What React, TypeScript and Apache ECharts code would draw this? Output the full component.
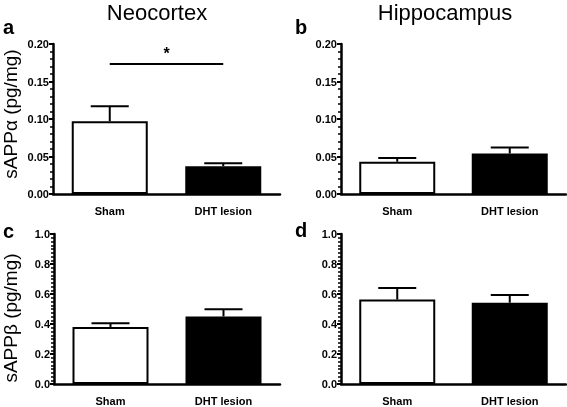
import React, { useEffect, useRef } from "react";
import * as echarts from "echarts";

const categories = ["Sham", "DHT lesion"];
// panel a: Neocortex sAPPα
const neoAlpha = [0.097, 0.037];
const neoAlphaErr = [0.117, 0.041];
// panel b: Hippocampus sAPPα
const hipAlpha = [0.043, 0.054];
const hipAlphaErr = [0.048, 0.062];
// panel c: Neocortex sAPPβ
const neoBeta = [0.38, 0.45];
const neoBetaErr = [0.405, 0.498];
// panel d: Hippocampus sAPPβ
const hipBeta = [0.563, 0.542];
const hipBetaErr = [0.64, 0.593];
const sigLevelA = 0.174;

const barColors = ["#ffffff", "#000000"];

export default function App() {
  const ref = useRef<HTMLDivElement>(null);
  useEffect(() => {
    if (!ref.current) return;
    const chart = echarts.init(ref.current, undefined, { renderer: "svg" });
    const font = "Liberation Sans, Arial, Helvetica, sans-serif";
    const grids = [
      { left: 53, top: 44, width: 227, height: 150 },
      { left: 341, top: 44, width: 225, height: 150 },
      { left: 54, top: 234, width: 226, height: 150 },
      { left: 341, top: 234, width: 225, height: 150 },
    ];
    const yConf = [
      { max: 0.2, interval: 0.05, dec: 2, minor: 5 },
      { max: 0.2, interval: 0.05, dec: 2, minor: 5 },
      { max: 1.0, interval: 0.2, dec: 1, minor: 8 },
      { max: 1.0, interval: 0.2, dec: 1, minor: 8 },
    ];
    const vals = [neoAlpha, hipAlpha, neoBeta, hipBeta];
    const errs = [neoAlphaErr, hipAlphaErr, neoBetaErr, hipBetaErr];

    const xAxes = grids.map((_, i) => ({
      type: "category",
      gridIndex: i,
      data: categories,
      axisLine: { lineStyle: { color: "#000", width: 2.5 } },
      axisTick: { show: false },
      axisLabel: {
        color: "#000",
        fontWeight: "bold",
        fontSize: 11,
        fontFamily: font,
        margin: 11,
      },
    }));
    const yAxes = yConf.map((c, i) => ({
      type: "value",
      gridIndex: i,
      min: 0,
      max: c.max,
      interval: c.interval,
      splitLine: { show: false },
      axisLine: { show: true, lineStyle: { color: "#000", width: 2.5 } },
      axisTick: { show: true, length: 4, lineStyle: { color: "#000", width: 2 } },
      minorTick: { show: true, splitNumber: c.minor, length: 3, lineStyle: { color: "#000", width: 1.5 } },
      axisLabel: {
        color: "#000",
        fontWeight: "bold",
        fontSize: 11,
        fontFamily: font,
        margin: 4,
        formatter: (v: number) => v.toFixed(c.dec),
      },
    }));

    const series: any[] = [];
    vals.forEach((v, i) => {
      const s: any = {
        type: "bar",
        xAxisIndex: i,
        yAxisIndex: i,
        barWidth: 76,
        z: 2,
        data: v.map((val, k) => ({
          value: val,
          itemStyle: { color: barColors[k], borderColor: "#000", borderWidth: 2 },
        })),
      };
      if (i === 0) {
        s.markLine = {
          silent: true,
          symbol: "none",
          lineStyle: { color: "#000", width: 2, type: "solid" },
          label: {
            show: true,
            position: "middle",
            formatter: "*",
            color: "#000",
            fontSize: 16,
            fontWeight: "bold",
            fontFamily: font,
            distance: 2,
          },
          data: [[{ coord: [0, sigLevelA] }, { coord: [1, sigLevelA] }]],
        };
      }
      series.push(s);
      series.push({
        type: "custom",
        xAxisIndex: i,
        yAxisIndex: i,
        z: 1,
        data: v.map((val, k) => [k, val, errs[i][k]]),
        renderItem: (params: any, api: any) => {
          const base = api.coord([api.value(0), api.value(1)]);
          const top = api.coord([api.value(0), api.value(2)]);
          const half = 19;
          return {
            type: "group",
            children: [
              {
                type: "line",
                shape: { x1: base[0], y1: base[1], x2: top[0], y2: top[1] },
                style: { stroke: "#000", lineWidth: 2 },
              },
              {
                type: "line",
                shape: { x1: top[0] - half, y1: top[1], x2: top[0] + half, y2: top[1] },
                style: { stroke: "#000", lineWidth: 2 },
              },
            ],
          };
        },
      });
    });

    const textStyle = (t: string, size: number, bold: boolean) => ({
      text: t,
      fill: "#000",
      font: `${bold ? "bold " : ""}${size}px ${font}`,
    });

    chart.setOption({
      animation: false,
      grid: grids,
      xAxis: xAxes,
      yAxis: yAxes,
      series,
      graphic: [
        { type: "text", x: 157, y: 12, style: { ...textStyle("Neocortex", 22, false), align: "center", verticalAlign: "middle" } },
        { type: "text", x: 445, y: 12, style: { ...textStyle("Hippocampus", 22, false), align: "center", verticalAlign: "middle" } },
        { type: "text", x: 3, y: 27, style: { ...textStyle("a", 20, true), align: "left", verticalAlign: "middle" } },
        { type: "text", x: 295, y: 27, style: { ...textStyle("b", 20, true), align: "left", verticalAlign: "middle" } },
        { type: "text", x: 3, y: 231, style: { ...textStyle("c", 20, true), align: "left", verticalAlign: "middle" } },
        { type: "text", x: 295, y: 230, style: { ...textStyle("d", 20, true), align: "left", verticalAlign: "middle" } },
        { type: "text", x: 10, y: 114, rotation: Math.PI / 2, style: { ...textStyle("sAPPα (pg/mg)", 19, false), align: "center", verticalAlign: "middle" } },
        { type: "text", x: 10, y: 318, rotation: Math.PI / 2, style: { ...textStyle("sAPPβ (pg/mg)", 19, false), align: "center", verticalAlign: "middle" } },
      ],
    });
    return () => chart.dispose();
  }, []);
  return <div ref={ref} style={{ width: 567, height: 407, position: "fixed", left: 0, top: 0 }} />;
}
